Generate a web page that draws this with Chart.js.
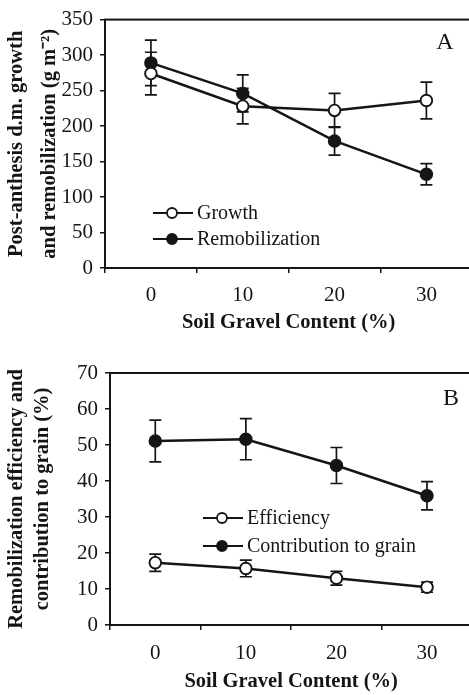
<!DOCTYPE html>
<html>
<head>
<meta charset="utf-8">
<script src="https://cdn.jsdelivr.net/npm/chart.js@4.4.1/dist/chart.umd.min.js"></script>
<style>
  html, body { margin: 0; padding: 0; background: #fff; overflow: hidden; width: 469px; height: 695px; }
  .panel { position: absolute; left: 0; width: 480px; }
  #panel-a { top: 0; height: 340px; }
  #panel-b { top: 340px; height: 355px; }
</style>
</head>
<body>
<div class="panel" id="panel-a"><canvas id="chart-a"></canvas></div>
<div class="panel" id="panel-b"><canvas id="chart-b"></canvas></div>
<script>
// soil gravel content (%)
const gravelLabels = ['0', '10', '20', '30'];

// panel A: post-anthesis d.m. growth and remobilization (g m-2)
const growth = [274, 228, 222, 236];
const growthErr = [30, 25, 24, 26];
const remobilization = [289, 246, 179, 132];
const remobilizationErr = [32, 26, 20, 15];

// panel B: remobilization efficiency and contribution to grain (%)
const efficiency = [17.3, 15.7, 13.0, 10.5];
const efficiencyErr = [2.4, 2.3, 1.9, 1.4];
const contribution = [51.1, 51.6, 44.3, 35.9];
const contributionErr = [5.8, 5.7, 5.0, 3.9];

const yRangeA = { max: 350, step: 50 };
const yRangeB = { max: 70, step: 10 };

const SERIF = '"Liberation Serif", "Times New Roman", serif';
const INK = '#151515';

const errorBars = {
  id: 'errorBars',
  beforeDatasetsDraw(chart) {
    const { ctx, scales: { y } } = chart;
    ctx.save();
    ctx.strokeStyle = INK;
    ctx.lineWidth = 1.7;
    chart.data.datasets.forEach((ds, di) => {
      const meta = chart.getDatasetMeta(di);
      ds.errors.forEach((err, i) => {
        const x = meta.data[i].x;
        const top = y.getPixelForValue(ds.data[i] + err);
        const bot = y.getPixelForValue(ds.data[i] - err);
        ctx.beginPath();
        ctx.moveTo(x, top); ctx.lineTo(x, bot);
        ctx.moveTo(x - 6, top); ctx.lineTo(x + 6, top);
        ctx.moveTo(x - 6, bot); ctx.lineTo(x + 6, bot);
        ctx.stroke();
      });
    });
    ctx.restore();
  }
};

const frame = {
  id: 'frame',
  beforeDatasetsDraw(chart) {
    const { ctx, chartArea: a } = chart;
    ctx.save();
    ctx.strokeStyle = INK;
    ctx.lineWidth = 2;
    ctx.strokeRect(a.left, a.top, a.right - a.left, a.bottom - a.top);
    ctx.restore();
  }
};

const extras = {
  id: 'extras',
  afterDraw(chart, args, opts) {
    const { ctx } = chart;
    ctx.save();
    ctx.fillStyle = INK;
    ctx.font = `24px ${SERIF}`;
    ctx.textAlign = 'center';
    ctx.textBaseline = 'middle';
    ctx.fillText(opts.letter, opts.letterX, opts.letterY);

    // line + marker legend
    ctx.font = `20px ${SERIF}`;
    ctx.textAlign = 'left';
    chart.data.datasets.forEach((ds, i) => {
      const y = opts.legendY + i * opts.legendGap;
      const x = opts.legendX;
      ctx.strokeStyle = INK;
      ctx.lineWidth = 1.8;
      ctx.beginPath();
      ctx.moveTo(x, y); ctx.lineTo(x + 40, y);
      ctx.stroke();
      ctx.beginPath();
      ctx.arc(x + 19, y, 5, 0, Math.PI * 2);
      ctx.fillStyle = ds.pointBackgroundColor;
      ctx.fill();
      ctx.stroke();
      ctx.fillStyle = INK;
      ctx.fillText(ds.label, x + 44, y + 1);
    });
    ctx.restore();
  }
};

function series(label, data, errors, fill) {
  return {
    label, data, errors,
    borderColor: INK,
    borderWidth: 2.5,
    tension: 0,
    pointRadius: 5.8,
    pointBorderWidth: 1.9,
    pointBorderColor: INK,
    pointBackgroundColor: fill
  };
}

function makeChart(canvasId, datasets, cfg) {
  const ctx = document.getElementById(canvasId).getContext('2d');
  const tickFont = { family: SERIF, size: 21 };
  return new Chart(ctx, {
    type: 'line',
    data: { labels: gravelLabels, datasets },
    options: {
      responsive: true,
      maintainAspectRatio: false,
      animation: false,
      layout: { padding: { top: cfg.padTop, right: cfg.padRight, left: 0, bottom: 0 } },
      plugins: {
        legend: { display: false },
        tooltip: { enabled: false },
        extras: cfg.extras
      },
      scales: {
        x: {
          type: 'category',
          offset: true,
          grid: { offset: true, drawOnChartArea: false, color: INK, lineWidth: 1.5, tickLength: 5 },
          border: { display: false },
          ticks: { color: INK, font: tickFont, padding: cfg.xTickPad, maxRotation: 0 },
          title: {
            display: true, text: 'Soil Gravel Content (%)', color: INK,
            font: { family: SERIF, size: 20.5, weight: 'bold', lineHeight: 1.2 },
            padding: { top: 0, bottom: cfg.xTitlePad }
          },
          afterFit: s => { s.height = cfg.xHeight; }
        },
        y: {
          min: 0, max: cfg.range.max,
          grid: { drawOnChartArea: false, color: INK, lineWidth: 1.5, tickLength: 5 },
          border: { display: false },
          ticks: { stepSize: cfg.range.step, color: INK, font: tickFont, padding: 7 },
          title: {
            display: true, text: cfg.yTitle, color: INK,
            font: { family: SERIF, size: 20.5, weight: 'bold', lineHeight: cfg.yTitleLH },
            padding: { top: cfg.yTitlePad, bottom: 0 }
          },
          afterFit: s => { s.width = cfg.yWidth; }
        }
      }
    },
    plugins: [frame, errorBars, extras]
  });
}

makeChart('chart-a', [
  series('Growth', growth, growthErr, '#ffffff'),
  series('Remobilization', remobilization, remobilizationErr, INK)
], {
  padTop: 14, padRight: 7, xHeight: 72, yWidth: 105,
  xTickPad: 9.5, xTitlePad: 5,
  range: yRangeA,
  yTitle: ['Post-anthesis d.m. growth', 'and remobilization (g m\u207B\u00B2)'],
  yTitleLH: 1.6, yTitlePad: 0.5,
  extras: { letter: 'A', letterX: 445, letterY: 43, legendX: 153, legendY: 213, legendGap: 26 }
});

makeChart('chart-b', [
  series('Efficiency', efficiency, efficiencyErr, '#ffffff'),
  series('Contribution to grain', contribution, contributionErr, INK)
], {
  padTop: 33, padRight: 6, xHeight: 70, yWidth: 110,
  xTickPad: 10.5, xTitlePad: 1,
  range: yRangeB,
  yTitle: ['Remobilization efficiency and', 'contribution to grain (%)'],
  yTitleLH: 1.27, yTitlePad: 4,
  extras: { letter: 'B', letterX: 451, letterY: 59, legendX: 203, legendY: 178, legendGap: 28 }
});
</script>
</body>
</html>
